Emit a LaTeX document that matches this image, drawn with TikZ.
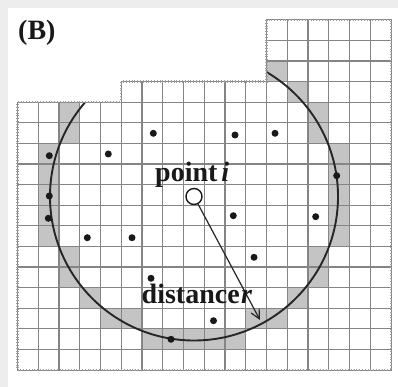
\documentclass[tikz,border=0pt]{standalone}
\usepackage{fontspec}
\setmainfont{Liberation Serif}
\usetikzlibrary{arrows.meta}
\definecolor{gridgray}{gray}{0.52}
\definecolor{cellgray}{gray}{0.77}
\definecolor{bggray}{gray}{0.93}
\begin{document}
\begin{tikzpicture}[x=1pt,y=-1pt,
  gridline/.style={draw=gridgray, line width=1.2pt},
  blackdot/.style={circle, fill=black!90, inner sep=0pt, minimum size=7pt},
  lbl/.style={font=\fontsize{28}{30}\selectfont\bfseries, inner sep=0pt, text=black!90},
  edgeline/.style={draw=gridgray, line width=1pt},
  edgeticks/.style={draw=gridgray!80, line width=2.4pt, dash pattern=on 0.6pt off 2.2pt}
]
\useasboundingbox (0,0) rectangle (398,387);
\fill[bggray] (0,0) rectangle (398,387);
\fill[white] (8,8) rectangle (398,387);

\coordinate (ctr) at (194,196.5);

\begin{scope}[shift={(17.5,370)}, x=20.75pt, y=20.6pt]
  \begin{scope}
    \clip (0,0) -- (18,0) -- (18,17) -- (12,17) -- (12,14) -- (5,14) -- (5,13) -- (0,13) -- cycle;
    \foreach \c/\r in {1/6,1/7,1/8,1/9,1/10,15/6,15/7,15/8,15/9,15/10,
                       2/4,2/5,2/11,2/12,14/4,14/5,14/11,14/12,
                       3/3,3/13,13/3,13/13,
                       4/2,5/2,11/2,12/2,4/14,5/14,11/14,12/14,
                       6/1,7/1,8/1,9/1,10/1,6/15,7/15,8/15,9/15,10/15}
      \fill[cellgray] (\c,\r) rectangle ++(1,1);
    \foreach \c in {1,...,17} \draw[gridline] (\c,0) -- (\c,17);
    \foreach \r in {1,...,16} \draw[gridline] (0,\r) -- (18,\r);
    \draw[line width=1.9pt, black!85] (ctr) circle[radius=144pt];
  \end{scope}
  \draw[edgeline] (0,0) -- (18,0) -- (18,17) -- (12,17) -- (12,14) -- (5,14) -- (5,13) -- (0,13) -- cycle;
  \draw[edgeticks] (0,0) -- (18,0) -- (18,17) -- (12,17) -- (12,14) -- (5,14) -- (5,13) -- (0,13) -- cycle;
\end{scope}

% points
\node[blackdot] (d1) at (153.3,133.3) {};
\node[blackdot] (d2) at (235,135) {};
\node[blackdot] (d3) at (275,133.3) {};
\node[blackdot] (d4) at (108.3,154) {};
\node[blackdot] (d5) at (49.3,155.7) {};
\node[blackdot] (d6) at (49.3,196) {};
\node[blackdot] (d7) at (48.3,218.3) {};
\node[blackdot] (d8) at (336.7,175.7) {};
\node[blackdot] (d9) at (87.3,237.7) {};
\node[blackdot] (d10) at (132,237.7) {};
\node[blackdot] (d11) at (233.3,215.7) {};
\node[blackdot] (d12) at (315.7,216.7) {};
\node[blackdot] (d13) at (254,257.3) {};
\node[blackdot] (d14) at (151,278.3) {};
\node[blackdot] (d15) at (213.5,320.7) {};
\node[blackdot] (d16) at (171,339.3) {};

% point i and radius
\node[draw=black!90, circle, line width=1.4pt, minimum size=16pt, inner sep=0pt, fill=white] (pti) at (ctr) {};
\coordinate (rt) at (260,320);
\draw[line width=1.2pt, black!85, -{Straight Barb[length=9pt,width=9pt]}] (pti) -- (rt);

% labels
\node[lbl, anchor=base west] (lp) at (155,182) {point\kern4pt\textit{i}};
\node[lbl, anchor=base west] (ld) at (141.5,303.5) {distance\kern1.5pt\textit{r}};
\node[lbl, anchor=base west] (lb) at (18,40) {(B)};
\end{tikzpicture}
\end{document}
